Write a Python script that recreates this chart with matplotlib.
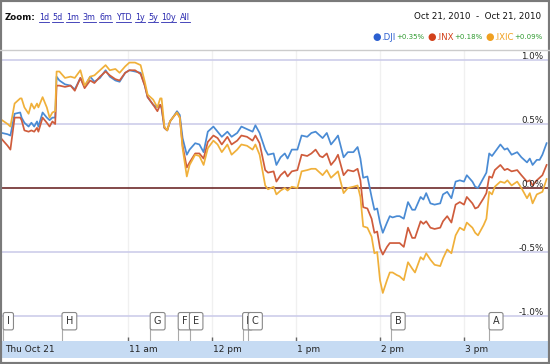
import matplotlib
matplotlib.use("Agg")
import matplotlib.pyplot as plt
import matplotlib.transforms as mtransforms
from matplotlib.lines import Line2D
from matplotlib.patches import Rectangle

# ---------------- data ----------------
minutes = [0, 4, 6, 9, 13, 14, 16, 19, 21, 23, 25, 26, 29, 32, 34, 36, 38, 39, 41, 45,
           49, 52, 56, 59, 63, 66, 70, 74, 77, 81, 84, 88, 91, 95, 99, 102, 104, 108, 111, 113,
           114, 116, 118, 120, 122, 125, 127, 129, 132, 134, 138, 141, 144, 147, 151, 154, 157, 161, 164, 168,
           171, 175, 179, 181, 184, 188, 190, 194, 196, 199, 202, 204, 207, 211, 214, 218, 221, 224, 227, 229,
           232, 235, 238, 240, 244, 247, 251, 254, 256, 258, 261, 264, 266, 268, 270, 272, 275, 277, 279, 282,
           284, 287, 290, 293, 295, 299, 301, 303, 306, 309, 313, 315, 318, 321, 324, 327, 330, 332, 336, 338,
           340, 344, 346, 348, 350, 352, 356, 359, 361, 364, 368, 371, 375, 377, 379, 382, 384, 386, 389]

dji = [0.43, 0.42, 0.41, 0.58, 0.59, 0.55, 0.51, 0.48, 0.51, 0.48, 0.52, 0.48, 0.59, 0.55, 0.53, 0.55, 0.55, 0.87, 0.84, 0.81,
       0.80, 0.77, 0.86, 0.79, 0.87, 0.83, 0.86, 0.92, 0.87, 0.84, 0.83, 0.90, 0.92, 0.91, 0.90, 0.80, 0.71, 0.65, 0.63, 0.65,
       0.62, 0.47, 0.45, 0.52, 0.55, 0.60, 0.57, 0.39, 0.26, 0.30, 0.35, 0.34, 0.28, 0.44, 0.48, 0.44, 0.40, 0.44, 0.40, 0.43,
       0.48, 0.46, 0.44, 0.49, 0.43, 0.30, 0.26, 0.27, 0.18, 0.24, 0.27, 0.23, 0.30, 0.30, 0.41, 0.40, 0.43, 0.44, 0.41, 0.39,
       0.43, 0.34, 0.38, 0.41, 0.24, 0.28, 0.28, 0.32, 0.23, 0.08, 0.09, -0.07, -0.17, -0.16, -0.27, -0.35, -0.27, -0.22, -0.23, -0.22,
       -0.22, -0.24, -0.11, -0.17, -0.17, -0.07, -0.09, -0.04, -0.12, -0.13, -0.12, -0.05, -0.03, -0.08, 0.05, 0.06, 0.05, 0.10, 0.05, 0.01,
       0.00, 0.08, 0.12, 0.27, 0.25, 0.28, 0.34, 0.30, 0.31, 0.26, 0.28, 0.24, 0.20, 0.23, 0.18, 0.22, 0.22, 0.26, 0.35]

inx = [0.38, 0.33, 0.30, 0.55, 0.55, 0.53, 0.45, 0.44, 0.45, 0.44, 0.47, 0.44, 0.55, 0.51, 0.48, 0.52, 0.50, 0.80, 0.80, 0.79,
       0.80, 0.76, 0.86, 0.78, 0.84, 0.82, 0.87, 0.91, 0.88, 0.85, 0.84, 0.90, 0.92, 0.92, 0.89, 0.80, 0.71, 0.65, 0.60, 0.65,
       0.63, 0.47, 0.45, 0.52, 0.55, 0.59, 0.55, 0.33, 0.16, 0.20, 0.27, 0.27, 0.23, 0.36, 0.41, 0.39, 0.34, 0.40, 0.34, 0.37,
       0.41, 0.40, 0.37, 0.41, 0.35, 0.14, 0.12, 0.13, 0.05, 0.10, 0.13, 0.09, 0.13, 0.14, 0.26, 0.25, 0.27, 0.30, 0.25, 0.24,
       0.27, 0.18, 0.22, 0.26, 0.10, 0.14, 0.13, 0.15, 0.06, -0.15, -0.16, -0.24, -0.35, -0.34, -0.47, -0.52, -0.46, -0.43, -0.43, -0.43,
       -0.43, -0.46, -0.31, -0.39, -0.39, -0.26, -0.28, -0.26, -0.31, -0.32, -0.31, -0.26, -0.22, -0.27, -0.13, -0.11, -0.13, -0.07, -0.12, -0.16,
       -0.15, -0.08, -0.04, 0.09, 0.08, 0.14, 0.18, 0.14, 0.15, 0.13, 0.14, 0.10, 0.05, 0.06, 0.02, 0.06, 0.08, 0.10, 0.18]

ixic = [0.53, 0.50, 0.48, 0.66, 0.70, 0.70, 0.63, 0.58, 0.66, 0.62, 0.66, 0.63, 0.71, 0.63, 0.55, 0.59, 0.60, 0.91, 0.91, 0.86,
        0.87, 0.86, 0.92, 0.80, 0.87, 0.88, 0.92, 0.96, 0.92, 0.93, 0.90, 0.95, 0.98, 0.98, 0.96, 0.83, 0.73, 0.69, 0.63, 0.70,
        0.70, 0.48, 0.45, 0.52, 0.55, 0.59, 0.55, 0.31, 0.09, 0.18, 0.26, 0.25, 0.18, 0.31, 0.37, 0.34, 0.28, 0.34, 0.26, 0.30,
        0.34, 0.33, 0.30, 0.34, 0.26, 0.02, -0.01, 0.01, -0.05, -0.02, 0.00, -0.02, 0.01, 0.00, 0.13, 0.14, 0.15, 0.15, 0.12, 0.10,
        0.14, 0.08, 0.11, 0.13, -0.04, 0.00, 0.01, 0.02, -0.07, -0.30, -0.31, -0.38, -0.51, -0.50, -0.72, -0.82, -0.72, -0.66, -0.66, -0.68,
        -0.69, -0.72, -0.58, -0.63, -0.66, -0.54, -0.56, -0.51, -0.56, -0.60, -0.61, -0.55, -0.48, -0.51, -0.37, -0.31, -0.33, -0.27, -0.31, -0.35,
        -0.37, -0.29, -0.24, -0.03, -0.05, 0.01, 0.05, 0.04, 0.06, 0.02, 0.05, 0.00, -0.08, -0.04, -0.12, -0.05, -0.04, -0.03, 0.07]

series_names = [".DJI", ".INX", ".IXIC"]
series_changes = ["+0.35%", "+0.18%", "+0.09%"]

hour_minutes = [90, 150, 210, 270, 330]
hour_labels = ["11 am", "12 pm", "1 pm", "2 pm", "3 pm"]
date_label = "Thu Oct 21"

y_ticks = [1.0, 0.5, 0.0, -0.5, -1.0]
y_tick_labels = ["1.0%", "0.5%", "0.0%", "-0.5%", "-1.0%"]

flag_letters = ["I", "H", "G", "F", "E", "I", "C", "B", "A"]
flag_minutes = [1, 43, 106, 126, 134, 172, 176, 278, 348]

zoom_links = ["1d", "5d", "1m", "3m", "6m", "YTD", "1y", "5y", "10y", "All"]
range_text = "Oct 21, 2010  -  Oct 21, 2010"

# ---------------- figure ----------------
W, H = 550, 364
fig = plt.figure(figsize=(W / 100, H / 100), dpi=100)
fig.patch.set_facecolor("white")
FAM = ["DejaVu Sans"]


def fx(px):
    return px / W


def fy(py):
    return 1 - py / H


ax = fig.add_axes([fx(2), fy(341), fx(546), 291 / H])
ax.set_xlim(0, 390)
ax.set_ylim((188 - 341) / 128, (188 - 50) / 128)
for s in ax.spines.values():
    s.set_visible(False)
ax.set_yticks([])
ax.set_xticks(hour_minutes)
ax.tick_params(axis="x", direction="in", length=3, width=1, color="#666666",
               labelbottom=False)

# grid
for hm in hour_minutes:
    ax.axvline(hm, color="#f0f0f0", lw=1, zorder=0)
for yt in y_ticks:
    if yt == 0:
        ax.axhline(yt, color="#6e2b2b", lw=1.2, zorder=1)
    else:
        ax.axhline(yt, color="#cdcdea", lw=1.2, zorder=0)
ytrans = mtransforms.blended_transform_factory(ax.transAxes, ax.transData)
for yt, lab in zip(y_ticks, y_tick_labels):
    ax.text(0.992, yt + 0.026, lab, transform=ytrans,
            ha="right", va="center", fontsize=6.3, color="#222222", zorder=5, family=FAM)

colors = ["#4a8bd4", "#cf5c3c", "#f0b03a"]
for vals, c in zip([dji, inx, ixic], colors):
    ax.plot(minutes, vals, color=c, lw=1.25, zorder=3)

# flags
trans_flag = mtransforms.blended_transform_factory(ax.transData, ax.transAxes)
for letter, m in zip(flag_letters, flag_minutes):
    ax.plot([m, m], [0, 0.04], transform=trans_flag, color="#aaaaaa", lw=0.8, zorder=4)
    off = mtransforms.offset_copy(trans_flag, fig=fig, x=3.5, y=0, units="dots")
    ax.text(m, 0.068, letter, transform=off, ha="left", va="center", fontsize=7,
            color="#333333", zorder=6,
            bbox=dict(boxstyle="round,pad=0.38,rounding_size=0.2", fc="white", ec="#888888", lw=0.8),
            family=FAM)

# bottom bar
bar = fig.add_axes([fx(0), fy(358), 1, 17 / H])
bar.set_facecolor("#c6dbf3")
pxmin = 390 / 546
bar.set_xlim(-2 * pxmin, 548 * pxmin)
bar.set_ylim(0, 1)
bar.set_xticks([])
bar.set_yticks([])
for s in bar.spines.values():
    s.set_visible(False)
bar.text(3 * pxmin, 0.5, date_label, ha="left", va="center",
         fontsize=6.5, color="#222222", family=FAM)
for hm, lab in zip(hour_minutes, hour_labels):
    bar.text(hm + 1, 0.5, lab, ha="left", va="center", fontsize=6.5, color="#222222", family=FAM)

fig.add_artist(Line2D([0, 1], [fy(50), fy(50)], color="#cccccc", lw=1))
fig.canvas.draw()
r = fig.canvas.get_renderer()


def width_px(t):
    return t.get_window_extent(renderer=r).width


# header: Zoom + links laid out left to right
z = fig.text(fx(5), fy(17), "Zoom:", ha="left", va="center", fontsize=6.2, fontweight="bold",
             color="#111111", family=FAM)
xcur = 5 + width_px(z) + 3
link_texts = []
for lab in zoom_links:
    t = fig.text(fx(xcur), fy(17), lab, ha="left", va="center", fontsize=5.8, color="#2a2ab0", family=FAM)
    link_texts.append(t)
    xcur += width_px(t) + 3.5

fig.text(fx(541), fy(17), range_text, ha="right", va="center", fontsize=6.3, color="#111111", family=FAM)

# legend laid out right-aligned at x = 543
name_colors = ["#2b5fd0", "#d2401a", "#f0a020"]
items = []
for i in range(3):
    d = fig.text(0, fy(37), "\u25CF", ha="left", va="center", fontsize=7,
                 color=name_colors[i], family="DejaVu Sans")
    n = fig.text(0, fy(37), series_names[i], ha="left", va="center", fontsize=6.2,
                 color=name_colors[i], family=FAM)
    c = fig.text(0, fy(37), series_changes[i], ha="left", va="center", fontsize=5.0,
                 color="#2f9a2f", family=FAM)
    items.append((d, 0))
    items.append((n, 1))
    items.append((c, 3 if i < 2 else 0))
total = sum(width_px(t) + g for t, g in items)
xcur = 543 - total
for t, g in items:
    t.set_x(fx(xcur))
    xcur += width_px(t) + g

fig.canvas.draw()
for t in link_texts:
    bb = t.get_window_extent(renderer=r)
    yl = bb.y0 - 0.3
    fig.add_artist(Line2D([bb.x0 / W, bb.x1 / W], [yl / H, yl / H], color="#2a2ab0", lw=0.6))

# frame border
fig.add_artist(Rectangle((0, 0), 1, 1, transform=fig.transFigure, fill=False,
                         ec="#7a7a7a", lw=3))

fig.savefig("out.png", dpi=100)
